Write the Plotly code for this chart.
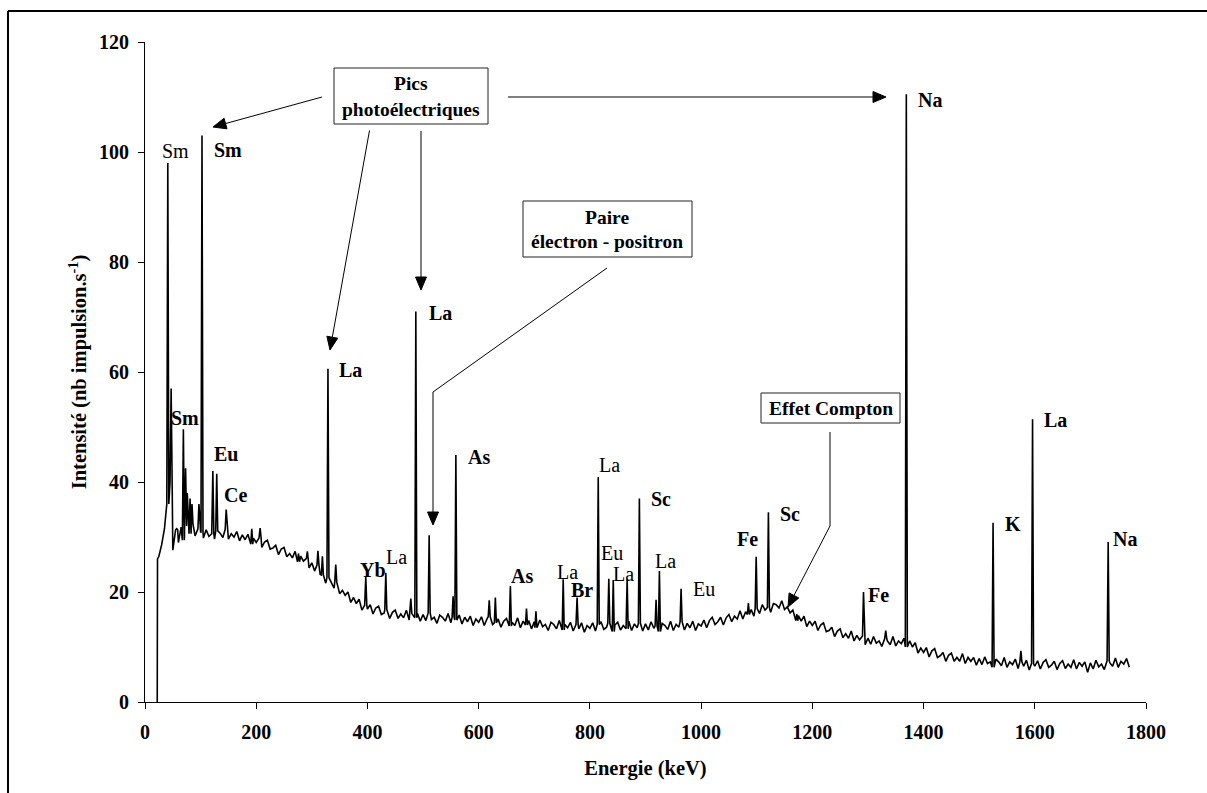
import math
import plotly.graph_objects as go

# ---------------- data ----------------
# onset of the spectrum (keV, intensity)
onset_energy = [22.0, 22.5]
onset_counts = [0.0, 26.0]

# continuum sampled every 5 keV from 25 to 1770 keV
bg_energy = list(range(25, 1775, 5))
bg_counts = [
    26.5, 28.6, 31.5, 36.0, 40.0, 27.6, 31.3, 29.0, 31.8, 29.4, 32.0, 30.6, 32.4, 30.2, 31.5,                                # 25-95
    30.9, 29.8, 31.3, 30.1, 30.6, 29.6, 31.1, 30.7, 29.9, 31.4, 29.6, 30.6, 30.0, 31.0, 29.3, 30.4, 29.5, 30.5, 28.7, 29.8,  # 100-195
    29.0, 29.8, 28.1, 29.1, 29.4, 27.8, 28.0, 28.5, 26.8, 27.8, 28.1, 26.4, 27.0, 26.2, 27.4, 25.5, 26.5, 25.6, 26.1, 24.4,  # 200-295
    25.3, 23.8, 24.9, 23.2, 23.1, 21.6, 22.6, 21.8, 20.7, 21.8, 19.7, 20.3, 19.4, 20.0, 18.1, 19.0, 17.9, 18.7, 16.7, 17.6,  # 300-395
    16.9, 17.7, 16.0, 17.1, 17.4, 15.9, 16.2, 16.8, 15.2, 16.3, 16.7, 15.2, 16.0, 15.3, 16.7, 14.9, 16.1, 15.3, 16.1, 14.7,  # 400-495
    15.9, 14.8, 16.2, 15.0, 15.4, 14.3, 15.8, 15.4, 14.7, 16.1, 14.4, 15.4, 14.9, 15.8, 14.2, 15.4, 14.6, 15.6, 13.9, 15.1,  # 500-595
    14.5, 15.5, 13.9, 15.1, 15.5, 14.1, 14.4, 15.1, 13.6, 14.7, 15.2, 13.8, 14.5, 13.9, 15.3, 13.5, 14.7, 14.0, 14.8, 13.3,  # 600-695
    14.6, 13.5, 14.9, 13.7, 14.1, 13.0, 14.5, 14.1, 13.3, 14.8, 13.1, 14.1, 13.5, 14.5, 12.9, 14.1, 13.3, 14.4, 12.7, 13.9,  # 700-795
    13.4, 14.4, 12.9, 14.1, 14.6, 13.2, 13.6, 14.3, 12.8, 14.0, 14.5, 13.1, 13.9, 13.3, 14.7, 13.0, 14.2, 13.5, 14.3, 12.9,  # 800-895
    14.2, 13.1, 14.6, 13.4, 13.8, 12.8, 14.3, 13.9, 13.2, 14.7, 13.0, 14.1, 13.6, 14.6, 13.1, 14.3, 13.5, 14.7, 13.0, 14.2,  # 900-995
    13.8, 14.9, 13.5, 14.8, 15.4, 14.1, 14.6, 15.4, 14.0, 15.3, 15.9, 14.6, 15.6, 15.1, 16.6, 15.1, 16.4, 15.9, 16.8, 15.6,  # 1000-1095
    17.0, 16.1, 17.7, 16.7, 17.2, 16.3, 17.9, 17.7, 17.1, 18.4, 16.8, 17.3, 16.2, 16.7, 14.8, 15.7, 14.7, 15.6, 13.7, 14.7,  # 1100-1195
    13.9, 14.7, 13.0, 14.0, 14.4, 12.8, 13.0, 13.6, 11.9, 12.9, 13.3, 11.7, 12.4, 11.6, 12.9, 11.1, 12.1, 11.3, 12.0, 10.4,  # 1200-1295
    11.6, 10.5, 11.9, 10.7, 11.1, 10.1, 11.5, 11.1, 10.4, 11.9, 10.2, 11.1, 10.6, 11.6, 10.0, 11.1, 10.0, 10.8, 8.9, 9.8,    # 1300-1395
    9.0, 9.9, 8.2, 9.3, 9.7, 8.1, 8.4, 9.0, 7.4, 8.5, 8.9, 7.4, 8.1, 7.4, 8.8, 7.0, 8.1, 7.4, 8.1, 6.7,                      # 1400-1495
    7.9, 6.8, 8.2, 7.0, 7.3, 6.3, 7.8, 7.3, 6.6, 8.1, 6.3, 7.3, 6.8, 7.8, 6.1, 7.3, 6.5, 7.6, 5.8, 7.0,                      # 1500-1595
    6.5, 7.5, 6.0, 7.2, 7.7, 6.3, 6.7, 7.4, 5.9, 7.0, 7.5, 6.1, 6.9, 6.3, 7.7, 6.0, 7.2, 6.5, 7.3, 5.4,                      # 1600-1695
    7.1, 6.0, 7.6, 6.4, 6.9, 5.9, 7.5, 7.1, 6.5, 8.0, 6.3, 7.4, 6.9, 7.9, 6.3,                                              # 1700-1770
]

# peaks (keV, intensity at the top)
peak_energy = [41, 47, 57, 69, 73, 76, 81, 84.5, 97, 102.5, 122, 129, 146, 192, 207,
               276, 292, 311, 319, 329, 343, 397, 433, 478, 487, 511, 554, 559, 619, 630,
               657, 686, 703, 752, 777, 815, 834, 842, 867, 889, 919, 925, 964, 1085, 1099,
               1121, 1172, 1292, 1332, 1369, 1525, 1575, 1596, 1732]
peak_counts = [98.0, 57.0, 31.5, 49.6, 42.5, 38.0, 37.0, 36.0, 36.0, 103.0, 42.0, 41.5, 35.0, 31.5, 31.6,
               27.0, 27.4, 27.5, 26.5, 60.6, 25.0, 22.7, 23.5, 18.8, 71.0, 30.3, 19.2, 44.9, 18.5, 19.0,
               21.1, 17.0, 16.5, 22.3, 19.0, 40.9, 22.4, 22.2, 22.3, 37.0, 18.6, 23.8, 20.6, 18.0, 26.4,
               34.5, 16.0, 20.0, 13.0, 110.5, 32.6, 9.3, 51.4, 29.1]

# peak labels: (text, bold)
label_text = ["Sm", "Sm", "Sm", "Eu", "Ce", "La", "La", "Yb", "La", "As", "As", "La", "Br", "La",
              "Eu", "La", "Sc", "La", "Eu", "Fe", "Sc", "Fe", "Na", "K", "La", "Na"]
label_bold = [False, True, True, True, True, True, True, True, False, True, True, False, True, False,
              False, False, True, False, False, True, True, True, True, True, True, True]

x_ticks = [0, 200, 400, 600, 800, 1000, 1200, 1400, 1600, 1800]
y_ticks = [0, 20, 40, 60, 80, 100, 120]
x_title = "Energie (keV)"
y_title = "Intensité (nb impulsion.s<sup>-1</sup>)"

# ---------------- layout geometry (pixels of the 1207x793 page) ----------------
W, H = 1207, 793
L, R, T, B = 145, 1146, 42, 702
label_pos = [(175, 151), (228, 150), (185, 418), (225.5, 454), (235.5, 495), (350.5, 370),
             (440, 313), (372.5, 570), (396, 557), (478.5, 457), (522, 576), (567, 572),
             (582, 590), (609.5, 465), (612, 553), (623, 574), (661, 499), (665.7, 561),
             (704, 589), (747, 539), (790, 514), (878.5, 595), (930, 100), (1013, 524),
             (1055.5, 420), (1125, 539)]


def px(x):
    return (x - L) / (R - L)


def py(y):
    return (B - y) / (B - T)


# ---------------- build the spectrum ----------------
hw = 1.8
pts = list(zip(onset_energy, onset_counts))
for e, c in zip(bg_energy, bg_counts):
    if any(pe - hw < e < pe + hw for pe in peak_energy):
        continue
    pts.append((e, c))
for pe, pc in zip(peak_energy, peak_counts):
    i = min(range(len(bg_energy)), key=lambda k: abs(bg_energy[k] - pe))
    base = bg_counts[i]
    pts += [(pe - hw, base), (pe, pc), (pe + hw, base)]
pts.sort(key=lambda p: p[0])

fig = go.Figure()
fig.add_trace(go.Scatter(x=[p[0] for p in pts], y=[p[1] for p in pts], mode="lines",
                         line=dict(color="black", width=1.6), showlegend=False,
                         hoverinfo="skip"))

SERIF = "Liberation Serif, Times New Roman, serif"

annotations = []
for (t, b), (lx, ly) in zip(zip(label_text, label_bold), label_pos):
    annotations.append(dict(x=px(lx), y=py(ly), xref="paper", yref="paper",
                            text=f"<b>{t}</b>" if b else t, showarrow=False,
                            xanchor="center", yanchor="middle",
                            font=dict(family=SERIF, size=20, color="black")))

# box texts
for t, (cx, cy) in [("Pics", (411, 83)), ("photoélectriques", (411, 109)),
                    ("Paire", (607, 217)), ("électron - positron", (607, 242)),
                    ("Effet Compton", (830.5, 408))]:
    annotations.append(dict(x=px(cx), y=py(cy), xref="paper", yref="paper",
                            text=f"<b>{t}</b>", showarrow=False,
                            xanchor="center", yanchor="middle",
                            font=dict(family=SERIF, size=19.5, color="black")))

shapes = []
for x0, y0, x1, y1 in [(334, 68, 488, 124), (523, 201, 692, 257), (761, 393, 900, 423)]:
    shapes.append(dict(type="rect", xref="paper", yref="paper",
                       x0=px(x0), x1=px(x1), y0=py(y0), y1=py(y1),
                       line=dict(color="#222", width=1), fillcolor="rgba(0,0,0,0)"))
for x0, y0, x1, y1 in [(607, 268, 433, 392), (830, 432, 830, 526)]:
    shapes.append(dict(type="line", xref="paper", yref="paper",
                       x0=px(x0), x1=px(x1), y0=py(y0), y1=py(y1),
                       line=dict(color="black", width=1)))

# arrows: (tip, tail) -> line + filled triangular head
HEAD_LEN, HEAD_HALF = 13.0, 5.5
for (tx, ty), (sx, sy) in [((213, 127), (322, 97)), ((330, 350), (369.5, 130.5)),
                           ((421, 290), (421, 131)), ((886, 97), (508, 97)),
                           ((433, 525), (433, 392)), ((788, 607), (830, 526))]:
    d = math.hypot(tx - sx, ty - sy)
    ux, uy = (tx - sx) / d, (ty - sy) / d
    bx, by = tx - HEAD_LEN * ux, ty - HEAD_LEN * uy
    nx, ny = -uy, ux
    shapes.append(dict(type="line", xref="paper", yref="paper",
                       x0=px(sx), y0=py(sy), x1=px(bx), y1=py(by),
                       line=dict(color="black", width=1)))
    p1 = (bx + HEAD_HALF * nx, by + HEAD_HALF * ny)
    p2 = (bx - HEAD_HALF * nx, by - HEAD_HALF * ny)
    path = (f"M {px(tx)},{py(ty)} L {px(p1[0])},{py(p1[1])} "
            f"L {px(p2[0])},{py(p2[1])} Z")
    shapes.append(dict(type="path", xref="paper", yref="paper", path=path,
                       fillcolor="black", line=dict(color="black", width=1)))

# outer frame (top and left)
shapes.append(dict(type="line", xref="paper", yref="paper", x0=px(8), x1=px(1207),
                   y0=py(11), y1=py(11), line=dict(color="black", width=2)))
shapes.append(dict(type="line", xref="paper", yref="paper", x0=px(8), x1=px(8),
                   y0=py(11), y1=py(793), line=dict(color="black", width=2)))

axis_common = dict(showline=True, linecolor="black", linewidth=1, ticks="outside",
                   ticklen=6, tickcolor="black", tickwidth=1, showgrid=False, zeroline=False,
                   tickfont=dict(family=SERIF, size=20, color="black", weight="bold"))

fig.update_layout(
    width=W, height=H,
    margin=dict(l=L, r=W - R, t=T, b=H - B, autoexpand=False),
    paper_bgcolor="white", plot_bgcolor="white",
    xaxis=dict(range=[0, 1800], tickvals=x_ticks, ticklabelstandoff=6,
               title=dict(text=f"<b>{x_title}</b>", standoff=18,
                          font=dict(family=SERIF, size=20.5, color="black")),
               **axis_common),
    yaxis=dict(range=[0, 120], tickvals=y_ticks, ticklabelstandoff=5,
               title=dict(text=f"<b>{y_title}</b>", standoff=6,
                          font=dict(family=SERIF, size=20.5, color="black")),
               **axis_common),
    annotations=annotations, shapes=shapes,
)

fig.write_html("out.html", config={"displayModeBar": False},
               post_script="document.body.style.margin='0';document.body.style.overflow='hidden';")
